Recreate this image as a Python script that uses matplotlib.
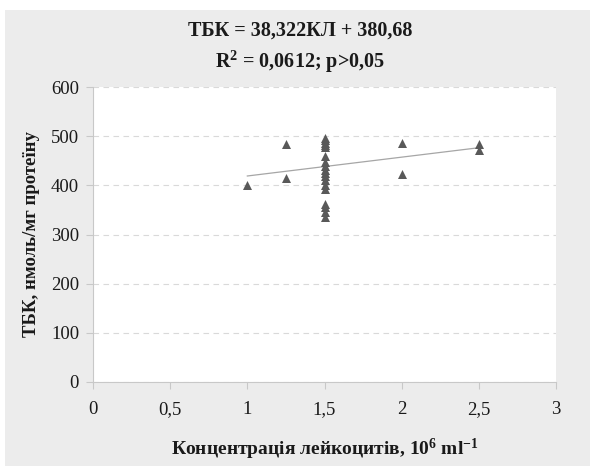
import matplotlib
matplotlib.use("Agg")
import matplotlib.pyplot as plt
from matplotlib.patches import Rectangle
import numpy as np

# Data
x_vals = [1.0, 1.25, 1.25, 2.0, 2.0, 2.5, 2.5,
          1.5, 1.5, 1.5, 1.5, 1.5, 1.5, 1.5, 1.5, 1.5, 1.5, 1.5, 1.5, 1.5, 1.5, 1.5, 1.5, 1.5, 1.5]
y_vals = [400, 484, 415, 487, 423, 484, 472,
          497, 492, 487, 482, 477, 460, 447, 440, 432, 425, 418, 410, 400, 392, 362, 355, 345, 335]
trend_slope = 38.322
trend_intercept = 380.68
x_ticks = [0, 0.5, 1, 1.5, 2, 2.5, 3]
x_tick_labels = ["0", "0,5", "1", "1,5", "2", "2,5", "3"]
y_ticks = [0, 100, 200, 300, 400, 500, 600]
title_lines = ["ТБК = 38,322КЛ + 380,68", r"R$^{\mathbf{2}}$ = 0,0612; p>0,05"]
x_label = "Концентрація лейкоцитів, 10$^{\\mathbf{6}}$ ml$^{\\mathbf{-1}}$"
y_label = "ТБК, нмоль/мг протеїну"

plt.rcParams['font.family'] = ['Liberation Serif', 'DejaVu Serif']
plt.rcParams['mathtext.fontset'] = 'custom'
plt.rcParams['mathtext.rm'] = 'Liberation Serif'
plt.rcParams['mathtext.bf'] = 'Liberation Serif:bold'
plt.rcParams['mathtext.it'] = 'Liberation Serif:italic'

fig = plt.figure(figsize=(5.9, 4.66), dpi=100)
fig.patch.set_facecolor('white')
fig.patches.append(Rectangle((5/590, 0), 1, 1 - 10/466, transform=fig.transFigure,
                             facecolor='#ececec', edgecolor='none', zorder=-10))

ax = fig.add_axes([93/590, 84/466, (556-93)/590, (382-87)/466])
ax.set_facecolor('white')

ax.scatter(x_vals, y_vals, marker='^', s=42, color='#595959', zorder=3, linewidths=0)
xl = np.array([min(x_vals), max(x_vals)])
ax.plot(xl, trend_slope * xl + trend_intercept, color='#a6a6a6', lw=0.9, zorder=2)

ax.set_xlim(0, 3)
ax.set_ylim(0, 600)
ax.set_xticks(x_ticks)
ax.set_xticklabels(x_tick_labels)
ax.set_yticks(y_ticks)
ax.yaxis.grid(True, linestyle=(0, (5, 4)), color='#d9d9d9', lw=0.8)
ax.set_axisbelow(True)
for s in ['top', 'right']:
    ax.spines[s].set_visible(False)
ax.spines['left'].set_color('#c8c8c8')
ax.spines['bottom'].set_color('#c8c8c8')
ax.tick_params(axis='both', colors='#c8c8c8', labelcolor='#1a1a1a', labelsize=13.5, length=5)
ax.tick_params(axis='x', pad=9)
ax.tick_params(axis='y', pad=5)

ax.set_xlabel(x_label, fontsize=14, fontweight='bold', color='#1a1a1a', labelpad=13)
ax.set_ylabel(y_label, fontsize=13.5, fontweight='bold', color='#1a1a1a', labelpad=8)

fig.text(300/590, 1 - 31/466, title_lines[0], ha='center', va='center',
         fontsize=14.5, fontweight='bold', color='#1a1a1a')
fig.text(300/590, 1 - 62/466, title_lines[1], ha='center', va='center',
         fontsize=14.5, fontweight='bold', color='#1a1a1a')

fig.savefig('out.png', dpi=100, facecolor=fig.get_facecolor())
